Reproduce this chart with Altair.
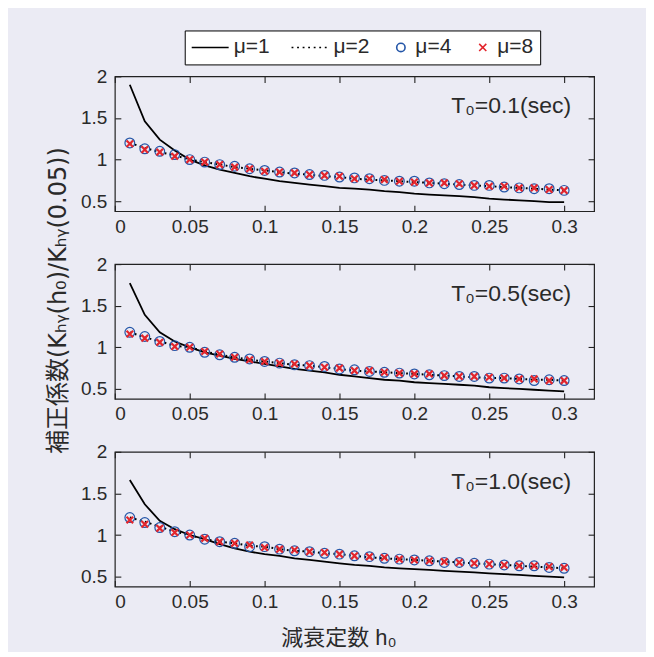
import altair as alt
import pandas as pd

# ---------------- data ----------------
H = [0.01, 0.02, 0.03, 0.04, 0.05, 0.06, 0.07, 0.08, 0.09, 0.10,
     0.11, 0.12, 0.13, 0.14, 0.15, 0.16, 0.17, 0.18, 0.19, 0.20,
     0.21, 0.22, 0.23, 0.24, 0.25, 0.26, 0.27, 0.28, 0.29, 0.30]

SERIES = ["μ=1", "μ=2", "μ=4", "μ=8"]
PANEL_LABELS = ["T₀=0.1(sec)", "T₀=0.5(sec)", "T₀=1.0(sec)"]

# T0 = 0.1 sec
P1_MU1 = [1.90, 1.46, 1.24, 1.11, 1.00, 0.93, 0.88, 0.84, 0.80, 0.77,
          0.74, 0.72, 0.70, 0.68, 0.66, 0.65, 0.64, 0.62, 0.61, 0.59,
          0.58, 0.57, 0.56, 0.55, 0.53, 0.52, 0.51, 0.50, 0.49, 0.49]
P1_MU2 = [1.20, 1.14, 1.09, 1.05, 1.00, 0.97, 0.94, 0.91, 0.89, 0.87,
          0.85, 0.83, 0.82, 0.80, 0.79, 0.77, 0.76, 0.75, 0.74, 0.73,
          0.72, 0.71, 0.70, 0.69, 0.68, 0.67, 0.66, 0.65, 0.64, 0.63]
P1_MU4 = [1.20, 1.13, 1.10, 1.06, 1.00, 0.97, 0.94, 0.92, 0.89, 0.87,
          0.85, 0.84, 0.82, 0.81, 0.79, 0.78, 0.77, 0.75, 0.74, 0.74,
          0.72, 0.71, 0.70, 0.69, 0.69, 0.67, 0.66, 0.65, 0.65, 0.63]
P1_MU8 = [1.19, 1.12, 1.09, 1.04, 1.00, 0.97, 0.94, 0.91, 0.89, 0.86,
          0.85, 0.84, 0.82, 0.81, 0.80, 0.77, 0.77, 0.76, 0.74, 0.73,
          0.72, 0.72, 0.71, 0.69, 0.68, 0.68, 0.66, 0.66, 0.64, 0.63]

# T0 = 0.5 sec
P2_MU1 = [1.77, 1.39, 1.18, 1.07, 1.00, 0.94, 0.90, 0.86, 0.83, 0.80,
          0.77, 0.74, 0.72, 0.70, 0.67, 0.65, 0.63, 0.61, 0.60, 0.58,
          0.57, 0.56, 0.55, 0.54, 0.52, 0.51, 0.50, 0.49, 0.48, 0.47]
P2_MU2 = [1.18, 1.12, 1.07, 1.02, 1.00, 0.95, 0.91, 0.88, 0.85, 0.83,
          0.81, 0.79, 0.78, 0.76, 0.74, 0.72, 0.71, 0.70, 0.69, 0.68,
          0.67, 0.66, 0.65, 0.64, 0.63, 0.63, 0.62, 0.61, 0.61, 0.60]
P2_MU4 = [1.18, 1.13, 1.07, 1.02, 1.00, 0.94, 0.91, 0.88, 0.86, 0.83,
          0.81, 0.79, 0.78, 0.77, 0.74, 0.73, 0.71, 0.70, 0.69, 0.68,
          0.67, 0.66, 0.65, 0.65, 0.63, 0.63, 0.62, 0.60, 0.61, 0.60]
P2_MU8 = [1.16, 1.11, 1.06, 1.01, 1.00, 0.95, 0.92, 0.88, 0.85, 0.83,
          0.81, 0.80, 0.78, 0.76, 0.75, 0.72, 0.72, 0.70, 0.69, 0.68,
          0.68, 0.66, 0.65, 0.65, 0.64, 0.63, 0.62, 0.62, 0.60, 0.60]

# T0 = 1.0 sec
P3_MU1 = [1.66, 1.37, 1.17, 1.07, 1.00, 0.95, 0.89, 0.84, 0.80, 0.77,
          0.75, 0.72, 0.70, 0.68, 0.66, 0.64, 0.63, 0.61, 0.60, 0.59,
          0.58, 0.57, 0.56, 0.55, 0.54, 0.53, 0.52, 0.51, 0.50, 0.49]
P3_MU2 = [1.21, 1.16, 1.10, 1.04, 1.00, 0.95, 0.92, 0.90, 0.87, 0.86,
          0.83, 0.81, 0.80, 0.78, 0.77, 0.75, 0.73, 0.72, 0.71, 0.70,
          0.69, 0.68, 0.67, 0.66, 0.65, 0.64, 0.63, 0.62, 0.61, 0.60]
P3_MU4 = [1.21, 1.15, 1.09, 1.04, 1.00, 0.95, 0.92, 0.90, 0.86, 0.86,
          0.83, 0.81, 0.80, 0.78, 0.77, 0.75, 0.74, 0.72, 0.71, 0.70,
          0.69, 0.67, 0.67, 0.66, 0.65, 0.64, 0.63, 0.63, 0.61, 0.60]
P3_MU8 = [1.18, 1.13, 1.08, 1.03, 1.00, 0.96, 0.92, 0.90, 0.88, 0.85,
          0.83, 0.82, 0.80, 0.79, 0.77, 0.75, 0.74, 0.73, 0.71, 0.70,
          0.69, 0.68, 0.67, 0.66, 0.65, 0.64, 0.63, 0.63, 0.62, 0.61]

PANELS = [
    (P1_MU1, P1_MU2, P1_MU4, P1_MU8),
    (P2_MU1, P2_MU2, P2_MU4, P2_MU8),
    (P3_MU1, P3_MU2, P3_MU4, P3_MU8),
]

X_TICKS = [0, 0.05, 0.1, 0.15, 0.2, 0.25, 0.3]
Y_TICKS = [0.5, 1, 1.5, 2]
X_TITLE = "減衰定数 h₀"
Y_TITLE = "補正係数(Kₕᵧ(h₀)/Kₕᵧ(0.05))"

# ---------------- styling ----------------
FONT = "Liberation Sans, DejaVu Sans, Noto Sans CJK JP"
YT_FONT = "DejaVu Sans, Noto Sans CJK JP"
TXT = "#2a2a2a"
BG = "#ebebf4"
BLUE = "#2456a8"
RED = "#e3262d"
W, HT = 480, 135

CROSS = "M-0.85,-0.85L0.85,0.85M-0.85,0.85L0.85,-0.85"
DOTS = "".join(f"M{-1 + i * 0.3:.2f},0L{-1 + i * 0.3 + 0.1:.2f},0" for i in range(7))
LINE = "M-1,0L1,0"

xs = alt.Scale(domain=[0, 0.32], nice=False, zero=False)
ys = alt.Scale(domain=[0.38, 2], nice=False, zero=False)


def lab_axis(orient, values, title=None, **kw):
    args = dict(orient=orient, values=values, format="~g", ticks=False,
                domain=False, grid=False, title=title)
    args.update(kw)
    return alt.Axis(**args)


def tick_axis(orient, values):
    return alt.Axis(orient=orient, values=values, labels=False, domain=False,
                    grid=False, ticks=True, tickSize=6, offset=-6, title=None)


def panel(i):
    mu1, mu2, mu4, mu8 = PANELS[i]
    rows = []
    for s, vals in zip(SERIES, (mu1, mu2, mu4, mu8)):
        for h, v in zip(H, vals):
            rows.append({"h": h, "v": v, "series": s})
    df = pd.DataFrame(rows)
    base = alt.Chart(df)

    xlab_kw = dict(labelPadding=6)
    if i == 2:
        xlab_kw.update(titlePadding=16, titleX=224)
    ylab_kw = dict(labelPadding=8)
    if i == 1:
        ylab_kw.update(titlePadding=10, titleY=36, titleFont=YT_FONT,
                       titleFontSize=24)

    l1 = base.mark_line(color="black", strokeWidth=1.8).encode(
        x=alt.X("h:Q", scale=xs,
                axis=lab_axis("bottom", X_TICKS, X_TITLE if i == 2 else None, **xlab_kw)),
        y=alt.Y("v:Q", scale=ys,
                axis=lab_axis("left", Y_TICKS, Y_TITLE if i == 1 else None, **ylab_kw)),
    ).transform_filter(alt.datum.series == SERIES[0])

    l2 = base.mark_line(color="black", strokeWidth=2, strokeDash=[1.8, 3.4]).encode(
        x=alt.X("h:Q", scale=xs, axis=tick_axis("bottom", X_TICKS)),
        y=alt.Y("v:Q", scale=ys, axis=tick_axis("left", Y_TICKS)),
    ).transform_filter(alt.datum.series == SERIES[1])

    p4 = base.mark_point(shape="circle", filled=False, color=BLUE, size=95,
                         strokeWidth=1.2, opacity=1).encode(
        x=alt.X("h:Q", scale=xs, axis=tick_axis("top", X_TICKS)),
        y=alt.Y("v:Q", scale=ys, axis=tick_axis("right", Y_TICKS)),
    ).transform_filter(alt.datum.series == SERIES[2])

    p8 = base.mark_point(shape=CROSS, filled=False, color=RED, size=60,
                         strokeWidth=2.2, opacity=1).encode(
        x=alt.X("h:Q", scale=xs, axis=None),
        y=alt.Y("v:Q", scale=ys, axis=None),
    ).transform_filter(alt.datum.series == SERIES[3])

    txt = alt.Chart(pd.DataFrame({"label": [PANEL_LABELS[i]]})).mark_text(
        align="right", baseline="alphabetic", font=FONT, fontSize=23, color=TXT
    ).encode(text="label:N", x=alt.value(W - 23), y=alt.value(37))

    layers = [l1, l2, p4, p8, txt]

    if i == 0:
        leg = alt.Legend(orient="none", legendX=70, legendY=-46,
                         direction="horizontal", title=None,
                         labelFont=FONT, labelFontSize=21, labelColor=TXT,
                         labelOffset=4, columnPadding=20, clipHeight=22,
                         strokeColor="black", fillColor="white", padding=6,
                         symbolStrokeWidth=1.6, cornerRadius=0)
        dummy = base.mark_point(filled=False, opacity=1).encode(
            x=alt.X("h:Q", scale=xs, axis=None),
            y=alt.Y("v:Q", scale=ys, axis=None),
            color=alt.Color("series:N", legend=leg,
                            scale=alt.Scale(domain=SERIES,
                                            range=["black", "black", BLUE, RED])),
            shape=alt.Shape("series:N", legend=leg,
                            scale=alt.Scale(domain=SERIES,
                                            range=[LINE, DOTS, "circle", CROSS])),
            size=alt.Size("series:N", legend=leg,
                          scale=alt.Scale(type="ordinal", domain=SERIES,
                                          range=[1369, 1369, 70, 70])),
        ).transform_filter("false")
        layers.append(dummy)

    return alt.layer(*layers).properties(width=W, height=HT).resolve_axis(
        x="independent", y="independent")


chart = alt.vconcat(panel(0), panel(1), panel(2), spacing=53, bounds="flush").resolve_scale(
    color="independent", shape="independent", size="independent"
).configure(
    background=BG,
    padding={"left": 37, "top": 20, "right": 50, "bottom": 2},
).configure_view(
    stroke="#222222", strokeWidth=1.2
).configure_axis(
    labelFont=FONT, labelFontSize=19, labelColor=TXT,
    titleFont=FONT, titleFontSize=22, titleColor=TXT, titleFontWeight="normal",
    tickColor="#222222", tickWidth=1.1,
)

chart.save("out.html", embed_options={"renderer": "svg", "actions": False})
